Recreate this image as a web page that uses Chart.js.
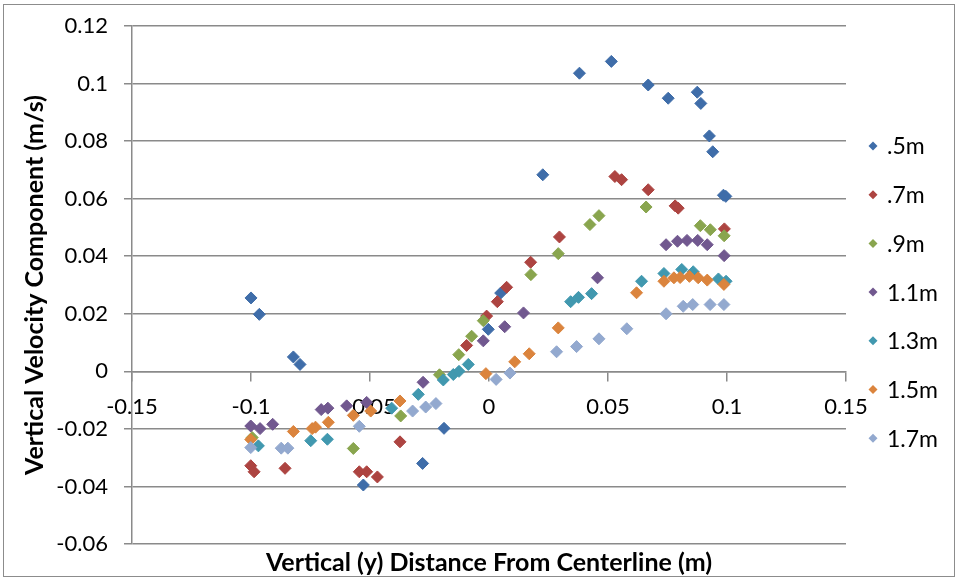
<!DOCTYPE html>
<html>
<head>
<meta charset="utf-8">
<title>Vertical velocity profiles</title>
<script src="https://cdn.jsdelivr.net/npm/chart.js@4.4.1/dist/chart.umd.min.js"></script>
<style>
  html, body { margin: 0; padding: 0; background: #fff; }
  #wrap { width: 956px; height: 580px; }
</style>
</head>
<body>
<div id="wrap"><canvas id="velocityChart" width="956" height="580"></canvas></div>
<script>
// measured points per station: [distance from centerline (m), vertical velocity (m/s)]
const st05 = [[-0.1, 0.0255], [-0.0965, 0.0198], [-0.0822, 0.005], [-0.0794, 0.0024], [-0.0528, -0.0395],
  [-0.0279, -0.032], [-0.0189, -0.0198], [-0.0003, 0.0146], [0.0049, 0.0272], [0.0226, 0.0683],
  [0.038, 0.1036], [0.0514, 0.1077], [0.0669, 0.0995], [0.0753, 0.0949], [0.0875, 0.097],
  [0.089, 0.0931], [0.0926, 0.0818], [0.094, 0.0763], [0.0985, 0.0612], [0.0995, 0.0608]];
const st07 = [[-0.1001, -0.0328], [-0.0987, -0.0349], [-0.0857, -0.0337], [-0.0545, -0.0349], [-0.0514, -0.0349],
  [-0.0469, -0.0367], [-0.0374, -0.0245], [-0.0094, 0.009], [-0.001, 0.0192], [0.0035, 0.0242],
  [0.0074, 0.0292], [0.0175, 0.0379], [0.0296, 0.0467], [0.0529, 0.0677], [0.0557, 0.0666],
  [0.0669, 0.0631], [0.0782, 0.0575], [0.0795, 0.0567], [0.0989, 0.0495]];
const st09 = [[-0.0995, -0.023], [-0.057, -0.0268], [-0.0371, -0.0155], [-0.0208, -0.0012], [-0.0127, 0.0058],
  [-0.0073, 0.0122], [-0.0024, 0.0176], [0.0176, 0.0336], [0.0291, 0.0409], [0.0424, 0.051],
  [0.0462, 0.0541], [0.066, 0.0571], [0.0888, 0.0506], [0.093, 0.0492], [0.0988, 0.0471]];
const st11 = [[-0.1001, -0.019], [-0.0962, -0.0199], [-0.0909, -0.0184], [-0.0705, -0.0133], [-0.0677, -0.0128],
  [-0.0598, -0.012], [-0.0514, -0.0108], [-0.0277, -0.0038], [-0.0024, 0.0106], [0.0066, 0.0155],
  [0.0145, 0.0203], [0.0456, 0.0325], [0.0744, 0.044], [0.0792, 0.0452], [0.0832, 0.0455],
  [0.0877, 0.0455], [0.0917, 0.044], [0.0988, 0.0402]];
const st13 = [[-0.0969, -0.0259], [-0.0749, -0.0241], [-0.0679, -0.0236], [-0.0409, -0.0128], [-0.0297, -0.008],
  [-0.0192, -0.003], [-0.015, -0.0011], [-0.0126, 0.0], [-0.0087, 0.0024], [0.0343, 0.0242],
  [0.0376, 0.0257], [0.0431, 0.027], [0.0641, 0.0313], [0.0735, 0.034], [0.081, 0.0354],
  [0.0858, 0.0346], [0.0964, 0.0321], [0.0996, 0.0313]];
const st15 = [[-0.1001, -0.0237], [-0.0822, -0.0209], [-0.0743, -0.0199], [-0.0729, -0.0194], [-0.0675, -0.0177],
  [-0.057, -0.0153], [-0.0497, -0.0138], [-0.0374, -0.0103], [-0.0013, -0.0008], [0.0108, 0.0033],
  [0.0169, 0.0061], [0.0291, 0.0151], [0.062, 0.0273], [0.0735, 0.0313], [0.0777, 0.0325],
  [0.0803, 0.0326], [0.0842, 0.033], [0.0879, 0.0325], [0.0917, 0.0317], [0.0987, 0.0302]];
const st17 = [[-0.1001, -0.0265], [-0.0873, -0.0267], [-0.0845, -0.0267], [-0.0545, -0.0191], [-0.0321, -0.0138],
  [-0.0266, -0.0124], [-0.0223, -0.0112], [0.003, -0.0028], [0.0088, -0.0006], [0.0284, 0.0068],
  [0.0368, 0.0086], [0.0462, 0.0113], [0.0579, 0.0148], [0.0744, 0.02], [0.0816, 0.0226],
  [0.0856, 0.0232], [0.0929, 0.0232], [0.0987, 0.0232]];

const stationNames = [".5m", ".7m", ".9m", "1.1m", "1.3m", "1.5m", "1.7m"];
const stationData = [st05, st07, st09, st11, st13, st15, st17];
const stationColors = ["#3F6DA9", "#AD4441", "#89A54E", "#71588F", "#4198AF", "#DB843D", "#93A9CF"];

const xTickValues = [-0.15, -0.1, -0.05, 0, 0.05, 0.1, 0.15];
const xTickLabels = ["-0.15", "-0.1", "-0.05", "0", "0.05", "0.1", "0.15"];
const yTickValues = [-0.06, -0.04, -0.02, 0, 0.02, 0.04, 0.06, 0.08, 0.1, 0.12];
const yTickLabels = ["-0.06", "-0.04", "-0.02", "0", "0.02", "0.04", "0.06", "0.08", "0.1", "0.12"];

const axisGray = "#8a8a8a";
const fontFamily = "Lato, 'Open Sans', sans-serif";

// frame, bottom axis title and the legend column on the right
const decorations = {
    id: "decorations",
    beforeDraw(chart) {
        const { ctx, width, height } = chart;
        ctx.save();
        ctx.fillStyle = "#ffffff";
        ctx.fillRect(0, 0, width, height);
        ctx.restore();
    },
    afterDraw(chart) {
        const { ctx, chartArea } = chart;
        ctx.save();
        ctx.strokeStyle = "#8c8c8c";
        ctx.lineWidth = 1;
        ctx.strokeRect(3.5, 4.5, 951, 572);

        ctx.fillStyle = "#000";
        ctx.font = "bold 25px " + fontFamily;
        ctx.textAlign = "center";
        ctx.textBaseline = "middle";
        ctx.fillText("Vertical (y) Distance From Centerline (m)", (chartArea.left + chartArea.right) / 2, 563);

        ctx.font = "23px " + fontFamily;
        ctx.textAlign = "left";
        chart.data.datasets.forEach((ds, i) => {
            const y = 146 + i * 48.7;
            const x = 873;
            ctx.fillStyle = ds.backgroundColor;
            ctx.beginPath();
            ctx.moveTo(x - 4.5, y);
            ctx.lineTo(x, y - 4.5);
            ctx.lineTo(x + 4.5, y);
            ctx.lineTo(x, y + 4.5);
            ctx.closePath();
            ctx.fill();
            ctx.fillStyle = "#000";
            ctx.fillText(ds.label, 887, y + 1);
        });
        ctx.restore();
    }
};

const ctx = document.getElementById("velocityChart").getContext("2d");
new Chart(ctx, {
    type: "scatter",
    data: {
        datasets: stationData.map((pts, i) => ({
            label: stationNames[i],
            data: pts.map(p => ({ x: p[0], y: p[1] })),
            backgroundColor: stationColors[i],
            borderColor: stationColors[i],
            borderWidth: 1,
            pointStyle: "rectRot",
            pointRadius: 6,
            pointHoverRadius: 6,
            order: stationNames.length - i // later stations sit on top
        }))
    },
    options: {
        responsive: false,
        animation: false,
        devicePixelRatio: 1,
        layout: { padding: { top: 26, right: 110, bottom: 36, left: 0 } },
        plugins: {
            legend: { display: false },
            tooltip: { enabled: false }
        },
        scales: {
            x: {
                type: "linear",
                min: -0.15,
                max: 0.15,
                position: { y: 0 },
                afterBuildTicks: scale => { scale.ticks = xTickValues.map(v => ({ value: v })); },
                ticks: {
                    autoSkip: false,
                    maxRotation: 0,
                    padding: 13,
                    color: "#000",
                    font: { family: fontFamily, size: 22 },
                    callback: (v, i) => xTickLabels[i]
                },
                grid: { drawOnChartArea: false, drawTicks: true, tickLength: 9, color: axisGray, lineWidth: 1.5 },
                border: { color: axisGray, width: 1.5 }
            },
            y: {
                type: "linear",
                min: -0.06,
                max: 0.12,
                afterBuildTicks: scale => { scale.ticks = yTickValues.map(v => ({ value: v })); },
                afterFit: scale => {
                    scale.width = 132;
                    scale.paddingTop = 0;
                    scale.paddingBottom = 0;
                },
                ticks: {
                    padding: 16,
                    color: "#000",
                    font: { family: fontFamily, size: 22 },
                    callback: (v, i) => yTickLabels[i]
                },
                grid: { color: axisGray, lineWidth: 1.5, tickLength: 8 },
                border: { color: axisGray, width: 1.5 },
                title: {
                    display: true,
                    text: "Vertical Velocity Component (m/s)",
                    color: "#000",
                    font: { family: fontFamily, size: 25, weight: "bold" },
                    padding: { top: 20, bottom: 0 }
                }
            }
        }
    },
    plugins: [decorations]
});
</script>
</body>
</html>
